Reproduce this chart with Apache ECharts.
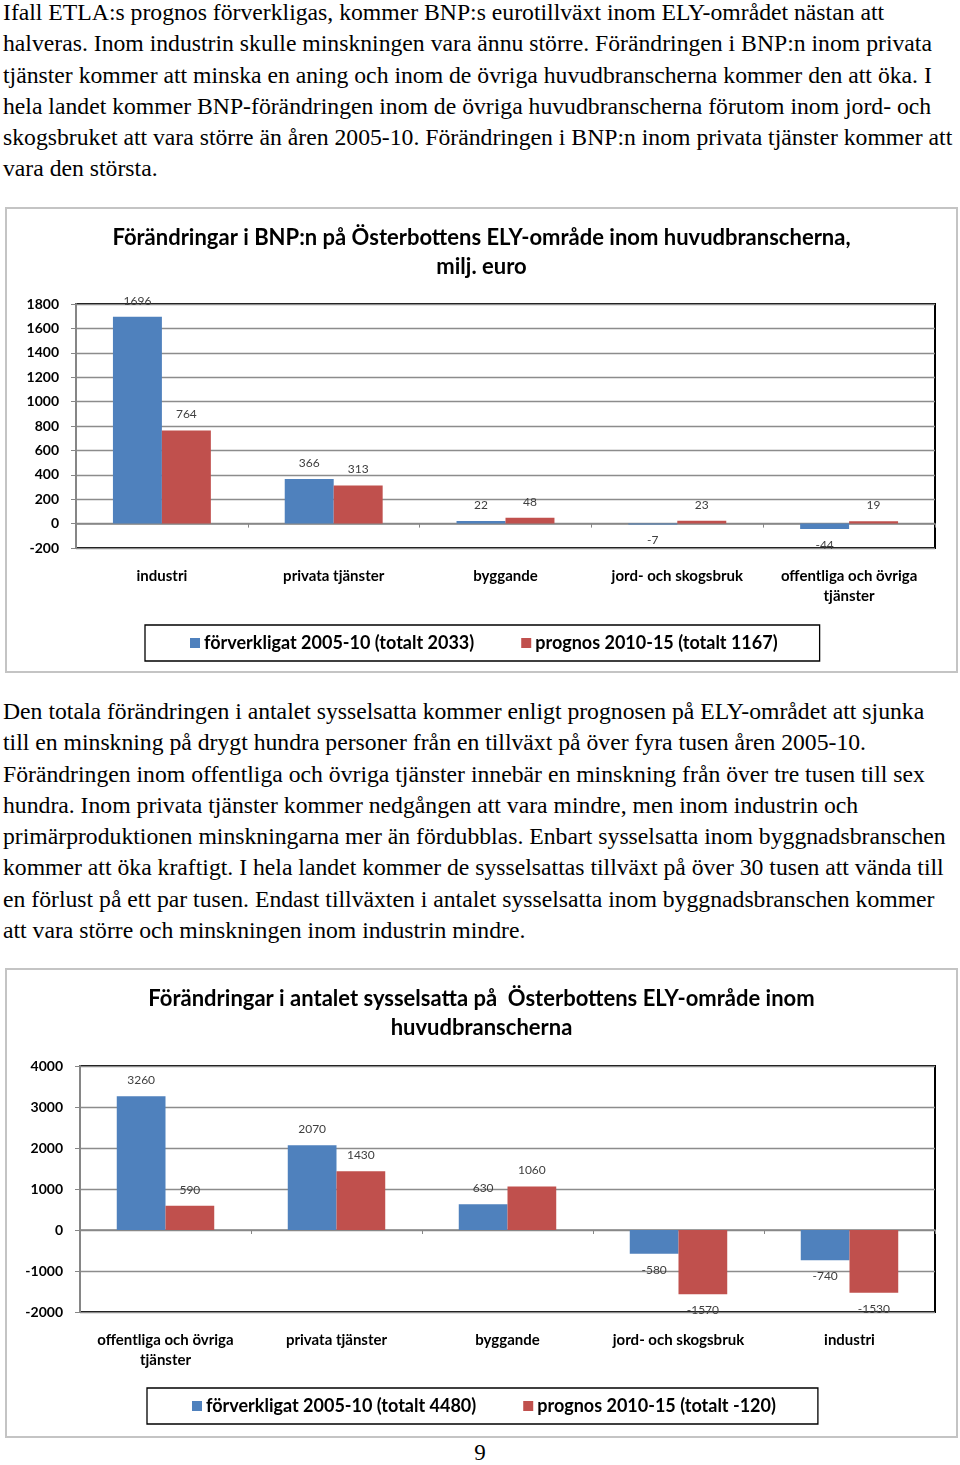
<!DOCTYPE html>
<html><head><meta charset="utf-8">
<script src="https://cdn.jsdelivr.net/npm/echarts@6/dist/echarts.min.js"></script>
<style>
html,body{margin:0;padding:0;background:#fff;}
body{width:960px;height:1465px;position:relative;overflow:hidden;font-family:"Liberation Serif","Times New Roman",serif;color:#000;}
.p{position:absolute;left:3px;font-size:23.7px;line-height:31.25px;white-space:nowrap;}
.box{position:absolute;left:5px;width:953px;box-sizing:border-box;border:2px solid #c4c4c4;}
.pg{position:absolute;left:0;width:960px;text-align:center;top:1439px;font-size:23px;line-height:28px;}
</style></head>
<body>
<div class="p" style="top:-3px">
Ifall ETLA:s prognos förverkligas, kommer BNP:s eurotillväxt inom ELY-området nästan att<br>
halveras. Inom industrin skulle minskningen vara ännu större. Förändringen i BNP:n inom privata<br>
tjänster kommer att minska en aning och inom de övriga huvudbranscherna kommer den att öka. I<br>
hela landet kommer BNP-förändringen inom de övriga huvudbranscherna förutom inom jord- och<br>
skogsbruket att vara större än åren 2005-10. Förändringen i BNP:n inom privata tjänster kommer att<br>
vara den största.
</div>
<div class="box" id="c1" style="top:207px;height:466px"></div>
<div class="p" style="top:696px">
Den totala förändringen i antalet sysselsatta kommer enligt prognosen på ELY-området att sjunka<br>
till en minskning på drygt hundra personer från en tillväxt på över fyra tusen åren 2005-10.<br>
Förändringen inom offentliga och övriga tjänster innebär en minskning från över tre tusen till sex<br>
hundra. Inom privata tjänster kommer nedgången att vara mindre, men inom industrin och<br>
primärproduktionen minskningarna mer än fördubblas. Enbart sysselsatta inom byggnadsbranschen<br>
kommer att öka kraftigt. I hela landet kommer de sysselsattas tillväxt på över 30 tusen att vända till<br>
en förlust på ett par tusen. Endast tillväxten i antalet sysselsatta inom byggnadsbranschen kommer<br>
att vara större och minskningen inom industrin mindre.
</div>
<div class="box" id="c2" style="top:968px;height:470px"></div>
<div class="pg">9</div>
<script>
// ---- Chart 1 data: BNP changes, milj. euro ----
const bnpTitle = 'Förändringar i BNP:n på Österbottens ELY-område inom huvudbranscherna,\nmilj. euro';
const bnpCategories = ['industri', 'privata tjänster', 'byggande', 'jord- och skogsbruk', 'offentliga och övriga\ntjänster'];
const bnpRealized = [1696, 366, 22, -7, -44];
const bnpForecast = [764, 313, 48, 23, 19];
const bnpSeriesNames = ['förverkligat 2005-10 (totalt 2033)', 'prognos 2010-15 (totalt 1167)'];
const bnpYMin = -200, bnpYMax = 1800, bnpYStep = 200;

// ---- Chart 2 data: employment changes ----
const empTitle = 'Förändringar i antalet sysselsatta på  Österbottens ELY-område inom\nhuvudbranscherna';
const empCategories = ['offentliga och övriga\ntjänster', 'privata tjänster', 'byggande', 'jord- och skogsbruk', 'industri'];
const empRealized = [3260, 2070, 630, -580, -740];
const empForecast = [590, 1430, 1060, -1570, -1530];
const empSeriesNames = ['förverkligat 2005-10 (totalt 4480)', 'prognos 2010-15 (totalt -120)'];
const empYMin = -2000, empYMax = 4000, empYStep = 1000;

const FONT = 'Lato';
const BLUE = '#4F81BD', RED = '#C0504D';

function barData(vals) {
  return vals.map(v => ({ value: v, label: { position: v < 0 ? 'bottom' : 'top' } }));
}

function makeOption(cfg) {
  const series = [cfg.realized, cfg.forecast].map((vals, i) => ({
    name: cfg.names[i],
    type: 'bar',
    xAxisIndex: 0,
    yAxisIndex: 0,
    barGap: '0%',
    barCategoryGap: '43%',
    itemStyle: { color: i === 0 ? BLUE : RED },
    label: { show: true, distance: 10, fontFamily: FONT, fontSize: 12, color: '#404040' },
    data: barData(vals),
    animation: false
  }));
  return {
    animation: false,
    textStyle: { fontFamily: FONT },
    title: {
      text: cfg.title, left: 'center', top: 9,
      textStyle: { fontFamily: FONT, fontSize: 22, fontWeight: 'bold', color: '#000', lineHeight: 29 }
    },
    legend: {
      left: cfg.legendLeft, top: cfg.legendTop,
      orient: 'horizontal',
      icon: 'rect', itemWidth: 10, itemHeight: 10, itemGap: 47,
      borderColor: '#000', borderWidth: 1.3,
      padding: [9, 42, 9, 45],
      textStyle: { fontFamily: FONT, fontSize: 18, fontWeight: 'bold', color: '#000', padding: [0, 0, 0, -1] },
      data: cfg.names
    },
    grid: {
      left: cfg.grid[0], top: cfg.grid[1], width: cfg.grid[2], height: cfg.grid[3],
      show: true, borderColor: '#000', borderWidth: 2, backgroundColor: 'transparent'
    },
    xAxis: [
      {
        type: 'category', data: cfg.categories,
        axisLine: { onZero: true, lineStyle: { color: '#868686', width: 1.5 } },
        axisTick: { show: true, length: 4, lineStyle: { color: '#868686' } },
        axisLabel: { show: false }
      },
      {
        type: 'category', data: cfg.categories, position: 'bottom',
        axisLine: { show: false, onZero: false },
        axisTick: { show: false },
        axisLabel: { margin: 18, fontFamily: FONT, fontSize: 15, fontWeight: 'bold', color: '#000', lineHeight: 20, interval: 0 }
      }
    ],
    yAxis: {
      type: 'value', min: cfg.yMin, max: cfg.yMax, interval: cfg.yStep,
      axisLine: { show: true, lineStyle: { color: '#868686', width: 2 } },
      axisTick: { show: true, length: 5, lineStyle: { color: '#868686' } },
      axisLabel: { margin: 17, fontFamily: FONT, fontSize: 14, fontWeight: 'bold', color: '#000', formatter: v => String(v) },
      splitLine: { show: true, lineStyle: { color: '#8c8c8c', width: 1.3 } }
    },
    series: series
  };
}

const c1 = echarts.init(document.getElementById('c1'), null, { renderer: 'canvas' });
c1.setOption(makeOption({
  title: bnpTitle, categories: bnpCategories, realized: bnpRealized, forecast: bnpForecast,
  names: bnpSeriesNames, yMin: bnpYMin, yMax: bnpYMax, yStep: bnpYStep,
  grid: [69, 95, 859, 244], legendLeft: 138, legendTop: 416
}));

const c2 = echarts.init(document.getElementById('c2'), null, { renderer: 'canvas' });
c2.setOption(makeOption({
  title: empTitle, categories: empCategories, realized: empRealized, forecast: empForecast,
  names: empSeriesNames, yMin: empYMin, yMax: empYMax, yStep: empYStep,
  grid: [73, 96, 855, 246], legendLeft: 140, legendTop: 418
}));
</script>
</body></html>
